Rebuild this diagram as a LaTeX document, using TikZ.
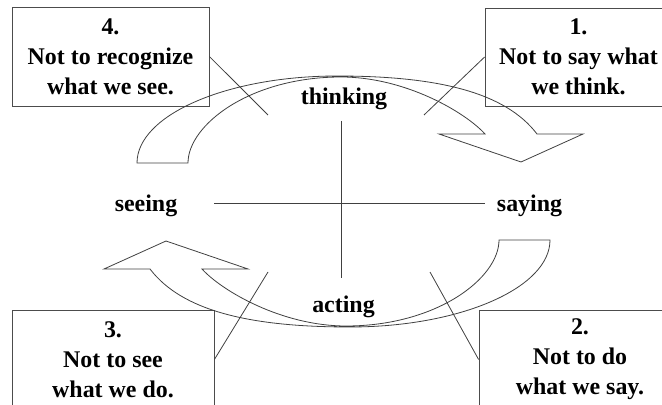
\documentclass[tikz,border=0pt]{standalone}
\usepackage{fontspec}
\setmainfont{Liberation Serif}
\begin{document}
\begin{tikzpicture}[line join=miter,
  box/.style={draw=black!70,line width=0.8bp,align=center,inner sep=0pt,font=\fontsize{24}{30}\selectfont\bfseries},
  word/.style={anchor=base,inner sep=0pt,font=\fontsize{24}{30}\selectfont\bfseries},
  pointer/.style={draw=black!75,line width=0.8bp},
  cyclearrow/.style={draw=black!75,line width=0.8bp}]
%%
\path[use as bounding box,clip] (0bp,0bp) rectangle (662bp,405bp);
\node (box_4) at (110.5bp,348.5bp) [box,minimum width=197bp,minimum height=99bp] {4.\\Not to recognize\\what we see.};
  \node (box_1) at (578.5bp,348bp) [box,minimum width=187bp,minimum height=98bp] {1.\\Not to say what\\we think.};
  \node (box_3) at (113bp,45.5bp) [box,minimum width=202bp,minimum height=99bp] {3.\\Not to see\\what we do.};
  \node (box_2) at (580bp,45.5bp) [box,minimum width=202bp,minimum height=99bp] {2.\\Not to do\\what we say.};
  \node (node_thinking) at (344bp,300bp) [word] {thinking};
  \node (node_seeing) at (146bp,193bp) [word] {seeing};
  \node (node_saying) at (529.5bp,193bp) [word] {saying};
  \node (node_acting) at (343.5bp,92bp) [word] {acting};
  \coordinate (end_4) at (268bp,290bp);
  \coordinate (end_1) at (424bp,290bp);
  \coordinate (end_3) at (268bp,133bp);
  \coordinate (end_2) at (430bp,133bp);
  \coordinate (cross_w) at (214bp,202bp);
  \coordinate (cross_e) at (485bp,202bp);
  \coordinate (cross_n) at (341bp,284bp);
  \coordinate (cross_s) at (341bp,127bp);
%
\foreach \a in {0,180}
  \draw [cyclearrow,rotate around={\a:(343.5bp,203.5bp)}] (137bp,242bp) ..controls (137bp,290bp) and (227bp,329bp) .. (337bp,329bp)
    ..controls (437bp,329bp) and (505bp,313bp) .. (537bp,271bp) -- (583bp,271bp) -- (521bp,243bp) -- (439bp,271bp) -- (485bp,271bp)
    ..controls (465bp,293bp) and (405bp,328bp) .. (341bp,328bp)
    ..controls (250bp,328bp) and (188bp,280bp) .. (188bp,242bp) -- cycle;
  \draw [pointer] (cross_w) -- (cross_e);
  \draw [pointer] (cross_n) -- (cross_s);
  \draw [pointer] (box_4.east) -- (end_4);
  \draw [pointer] (box_1.west) -- (end_1);
  \draw [pointer] (box_3.east) -- (end_3);
  \draw [pointer] (box_2.west) -- (end_2);
%
\end{tikzpicture}
\end{document}
